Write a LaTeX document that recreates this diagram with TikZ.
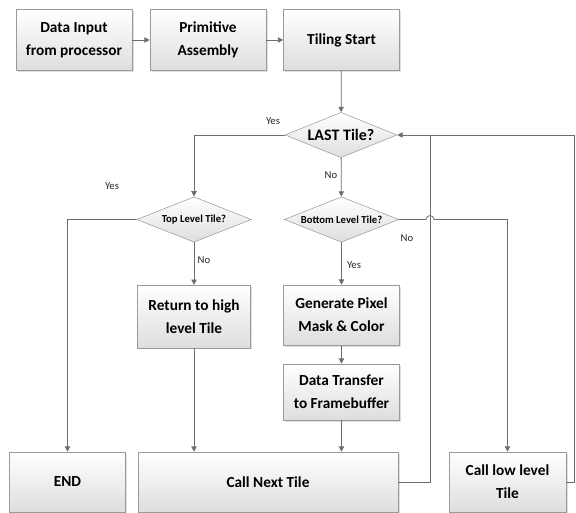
\documentclass[tikz,border=0pt]{standalone}
\usepackage{fontspec}
\setmainfont{Carlito}
\usetikzlibrary{shapes.geometric,arrows.meta,shadows}

\definecolor{boxline}{HTML}{9A9A9A}
\definecolor{flowline}{HTML}{6E6E6E}

\tikzset{
  proc/.style={draw=boxline, top color=white, bottom color=black!13,
    drop shadow={shadow xshift=1.2pt, shadow yshift=-1.2pt, opacity=0.25},
    font=\bfseries\fontsize{11.5}{17}\selectfont, align=center,
    inner sep=0pt, minimum width=87pt, minimum height=45pt},
  decision/.style={diamond, draw=boxline, top color=white, bottom color=black!13,
    aspect=2.5, inner sep=0pt, minimum width=86pt, minimum height=34pt,
    font=\bfseries\fontsize{8}{9}\selectfont},
  lbl/.style={font=\fontsize{8}{9}\selectfont, text=black!85},
  flow/.style={draw=flowline, line width=0.6pt},
  arr/.style={flow, -{Triangle[length=4pt,width=4pt]}}
}

\begin{document}
\begin{tikzpicture}[x=0.75pt, y=-0.75pt]
    \useasboundingbox (0,0) rectangle (576,513);

    % Define nodes
    \node[proc, minimum height=45.75pt]                  (input)  at (74,40)    {Data Input\\from processor};
    \node[proc, minimum height=45.75pt]                  (prim)   at (208,40)   {Primitive\\Assembly};
    \node[proc, minimum height=45.75pt]                  (start)  at (341.5,40) {Tiling Start};
    \node[decision, minimum width=84pt, font=\bfseries\fontsize{12}{14}\selectfont]
                                                         (last)   at (341,135)  {LAST Tile?};
    \node[decision]                                      (top)    at (194,219.5) {Top Level Tile?};
    \node[decision]                                      (bottom) at (341.5,219.5) {Bottom Level Tile?};
    \node[proc, minimum width=85pt, minimum height=47pt] (ret)    at (194,316.5) {Return to high\\level Tile};
    \node[proc]                                          (gen)    at (341.5,315) {Generate Pixel\\Mask \& Color};
    \node[proc, minimum height=42pt]                     (xfer)   at (341.5,392) {Data Transfer\\to Framebuffer};
    \node[proc]                                          (end)    at (67.5,482) {END};
    \node[proc, minimum width=195pt]                     (next)   at (268,482)  {Call Next Tile};
    \node[proc, minimum width=87.75pt]                   (low)    at (507.5,482) {Call low level\\Tile};

    % Branch labels
    \node[lbl] (yeslast) at (273,121) {Yes};
    \node[lbl] (nolast)  at (331,175) {No};
    \node[lbl] (yestop)  at (112,186) {Yes};
    \node[lbl] (notop)   at (204,260) {No};
    \node[lbl] (nobot)   at (407,238) {No};
    \node[lbl] (yesbot)  at (354,265) {Yes};

    % Helper points
    \coordinate (loop) at (430,135);
    \coordinate (rim)  at (574,135);
    \coordinate (hop)  at (426,219.5);

    % Connect nodes
    \draw[arr] (input) -- (prim);
    \draw[arr] (prim) -- (start);
    \draw[arr] (start) -- (last);
    \draw[arr] (last.west) -| (top.north);
    \draw[arr] (top.west) -| (end.north);
    \draw[arr] (top) -- (ret);
    \draw[arr] (ret.south) -- (ret.south |- next.north);
    \draw[arr] (last) -- (bottom);
    \draw[arr] (bottom) -- (gen);
    \draw[arr] (gen) -- (xfer);
    \draw[arr] (xfer.south) -- (xfer.south |- next.north);
    \draw[arr] (bottom.east) -- (hop) arc[start angle=180, end angle=0, radius=3pt] -| (low.north);
    \draw[arr] (next.east) -| (loop) -- (last.east);
    \draw[flow] (low.east) -| (rim) -- (loop);
\end{tikzpicture}
\end{document}
